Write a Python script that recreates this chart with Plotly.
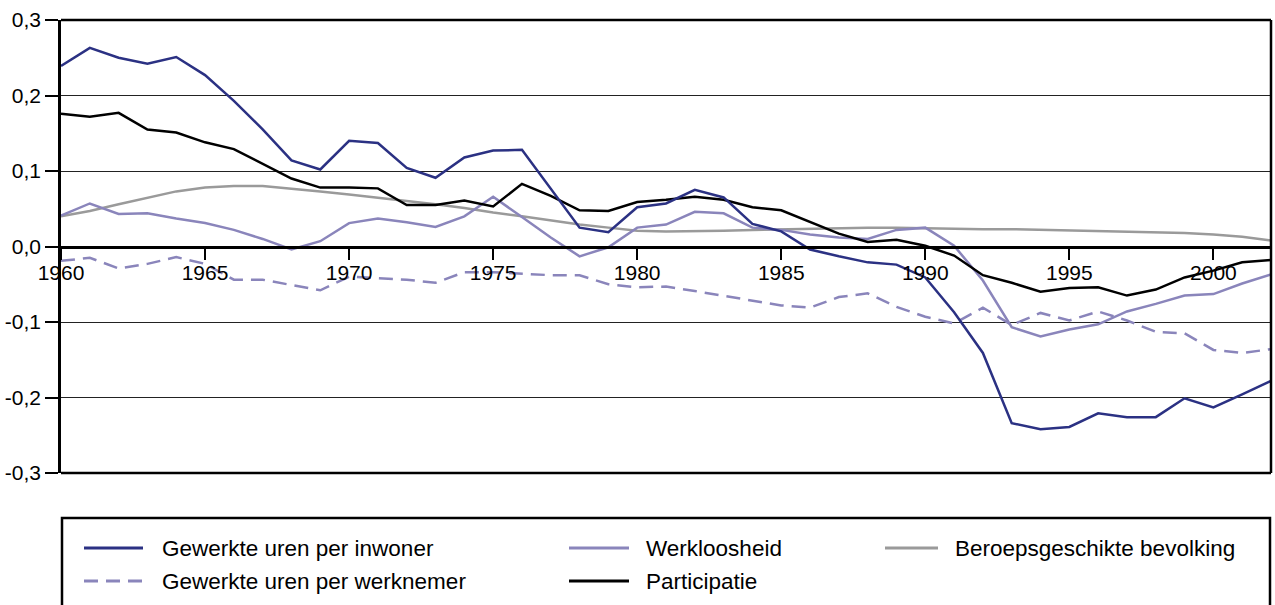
import plotly.graph_objects as go

years = list(range(1960, 2003))

inwoner = [0.239, 0.263, 0.250, 0.242, 0.251, 0.227, 0.193, 0.155, 0.114, 0.102,
           0.140, 0.137, 0.104, 0.091, 0.118, 0.127, 0.128, 0.076, 0.025, 0.019,
           0.052, 0.057, 0.075, 0.065, 0.030, 0.020, -0.004, -0.013, -0.021, -0.024,
           -0.041, -0.087, -0.141, -0.234, -0.242, -0.239, -0.221, -0.226, -0.226, -0.201,
           -0.213, -0.196, -0.178]

werknemer = [-0.019, -0.015, -0.029, -0.023, -0.014, -0.023, -0.044, -0.044, -0.051, -0.058,
             -0.040, -0.042, -0.044, -0.048, -0.034, -0.034, -0.036, -0.038, -0.038, -0.050,
             -0.054, -0.053, -0.059, -0.065, -0.072, -0.078, -0.081, -0.067, -0.062, -0.080,
             -0.093, -0.102, -0.081, -0.104, -0.088, -0.098, -0.086, -0.098, -0.113, -0.115,
             -0.137, -0.141, -0.136]

werkloosheid = [0.041, 0.057, 0.043, 0.044, 0.037, 0.031, 0.022, 0.010, -0.004, 0.007,
                0.031, 0.037, 0.032, 0.026, 0.040, 0.066, 0.039, 0.012, -0.013, -0.001,
                0.025, 0.029, 0.046, 0.044, 0.025, 0.022, 0.016, 0.012, 0.010, 0.022,
                0.025, 0.001, -0.045, -0.107, -0.119, -0.110, -0.103, -0.086, -0.076, -0.065,
                -0.063, -0.049, -0.037]

participatie = [0.176, 0.172, 0.177, 0.155, 0.151, 0.138, 0.129, 0.109, 0.090, 0.078,
                0.078, 0.077, 0.055, 0.055, 0.061, 0.053, 0.083, 0.067, 0.048, 0.047,
                0.059, 0.062, 0.066, 0.062, 0.052, 0.048, 0.033, 0.017, 0.006, 0.009,
                0.001, -0.012, -0.038, -0.048, -0.060, -0.055, -0.054, -0.065, -0.057, -0.041,
                -0.032, -0.021, -0.018]

beroeps = [0.040, 0.047, 0.056, 0.065, 0.073, 0.078, 0.080, 0.080, 0.077, 0.073,
           0.069, 0.065, 0.061, 0.056, 0.051, 0.045, 0.040, 0.034, 0.029, 0.025,
           0.021, 0.020, 0.020, 0.021, 0.022, 0.023, 0.024, 0.025, 0.025, 0.025,
           0.024, 0.023, 0.023, 0.023, 0.022, 0.022, 0.021, 0.020, 0.019, 0.018,
           0.016, 0.013, 0.008]

series_names = ["Gewerkte uren per inwoner", "Gewerkte uren per werknemer",
                "Werkloosheid", "Participatie", "Beroepsgeschikte bevolking"]

y_tickvals = [-0.3, -0.2, -0.1, 0.0, 0.1, 0.2, 0.3]
y_ticktext = ["-0,3", "-0,2", "-0,1", "0,0", "0,1", "0,2", "0,3"]
x_tickvals = [1960, 1965, 1970, 1975, 1980, 1985, 1990, 1995, 2000]
x_ticktext = ["1960", "1965", "1970", "1975", "1980", "1985", "1990", "1995", "2000"]

DARK = "#2b3183"
LIGHT = "#8a85bb"
GRAY = "#9a9a9a"
BLACK = "#000000"

styles = {
    "Gewerkte uren per inwoner": dict(color=DARK, width=2.5),
    "Gewerkte uren per werknemer": dict(color=LIGHT, width=2.5, dash="14px,8px"),
    "Werkloosheid": dict(color=LIGHT, width=2.5),
    "Participatie": dict(color=BLACK, width=2.5),
    "Beroepsgeschikte bevolking": dict(color=GRAY, width=2.5),
}
data_map = {
    "Gewerkte uren per inwoner": inwoner,
    "Gewerkte uren per werknemer": werknemer,
    "Werkloosheid": werkloosheid,
    "Participatie": participatie,
    "Beroepsgeschikte bevolking": beroeps,
}

fig = go.Figure()
for name in ["Beroepsgeschikte bevolking", "Gewerkte uren per werknemer", "Werkloosheid",
             "Participatie", "Gewerkte uren per inwoner"]:
    fig.add_trace(go.Scatter(x=years, y=data_map[name], mode="lines", name=name,
                             line=styles[name], showlegend=False, hoverinfo="x+y+name"))

FONT = "Liberation Sans, Arial, sans-serif"

fig.update_layout(
    width=1275, height=605,
    margin=dict(l=61, r=4, t=20, b=132, pad=0),
    paper_bgcolor="white", plot_bgcolor="white",
    font=dict(family=FONT, size=21, color="black"),
    showlegend=False,
    xaxis=dict(
        range=[1960, 2002], tickvals=x_tickvals, ticktext=x_ticktext,
        showgrid=False, zeroline=False, automargin=False,
        showline=True, linecolor="black", linewidth=2.5,
        ticks="outside", ticklen=12, tickwidth=1.5, tickcolor="black",
        ticklabelstandoff=-5,
        anchor="free", position=0.5,
        tickfont=dict(family=FONT, size=21, color="black"),
    ),
    yaxis=dict(
        range=[-0.3, 0.3], tickvals=y_tickvals, ticktext=y_ticktext,
        showgrid=True, gridcolor="#222222", gridwidth=1,
        zeroline=False, automargin=False,
        showline=True, linecolor="black", linewidth=2.5,
        ticks="outside", ticklen=13, tickwidth=1.5, tickcolor="black",
        tickfont=dict(family=FONT, size=21, color="black"),
    ),
)

# Plot frame (top, right, bottom)
fig.add_shape(type="line", xref="paper", yref="paper", x0=0, x1=1, y0=1, y1=1,
              line=dict(color="black", width=2.5), layer="above")
fig.add_shape(type="line", xref="paper", yref="paper", x0=1, x1=1, y0=0, y1=1,
              line=dict(color="black", width=2.5), layer="above")
fig.add_shape(type="line", xref="paper", yref="paper", x0=0, x1=1, y0=0, y1=0,
              line=dict(color="black", width=2.5), layer="above")

# Legend box (manual)
plot_w = 1210.0
plot_h = 453.0
def px_to_paper_x(px):
    return (px - 61) / plot_w
def px_to_paper_y(py):
    return (473 - py) / plot_h

fig.add_shape(type="rect", xref="paper", yref="paper",
              x0=px_to_paper_x(62), x1=px_to_paper_x(1270),
              y0=px_to_paper_y(620), y1=px_to_paper_y(518),
              line=dict(color="black", width=2.5), fillcolor="rgba(0,0,0,0)")

legend_layout = [
    ("Gewerkte uren per inwoner", 84, 143, 160, 548),
    ("Werkloosheid", 569, 629, 644, 548),
    ("Beroepsgeschikte bevolking", 885, 938, 953, 548),
    ("Gewerkte uren per werknemer", 84, 143, 160, 581),
    ("Participatie", 569, 629, 644, 581),
]
for name, lx0, lx1, tx, ly in legend_layout:
    st = styles[name]
    fig.add_shape(type="line", xref="paper", yref="paper",
                  x0=px_to_paper_x(lx0), x1=px_to_paper_x(lx1),
                  y0=px_to_paper_y(ly), y1=px_to_paper_y(ly),
                  line=dict(color=st["color"], width=3,
                            dash=st.get("dash", "solid")))
    fig.add_annotation(xref="paper", yref="paper", x=px_to_paper_x(tx),
                       y=px_to_paper_y(ly), text=name, showarrow=False,
                       xanchor="left", yanchor="middle",
                       font=dict(family=FONT, size=22.5, color="black"))

fig.write_html(
    "out.html",
    config={"displayModeBar": False},
    post_script="document.body.style.margin='0';document.body.style.padding='0';"
                "document.body.style.overflow='hidden';"
                "document.documentElement.style.overflow='hidden';",
)
